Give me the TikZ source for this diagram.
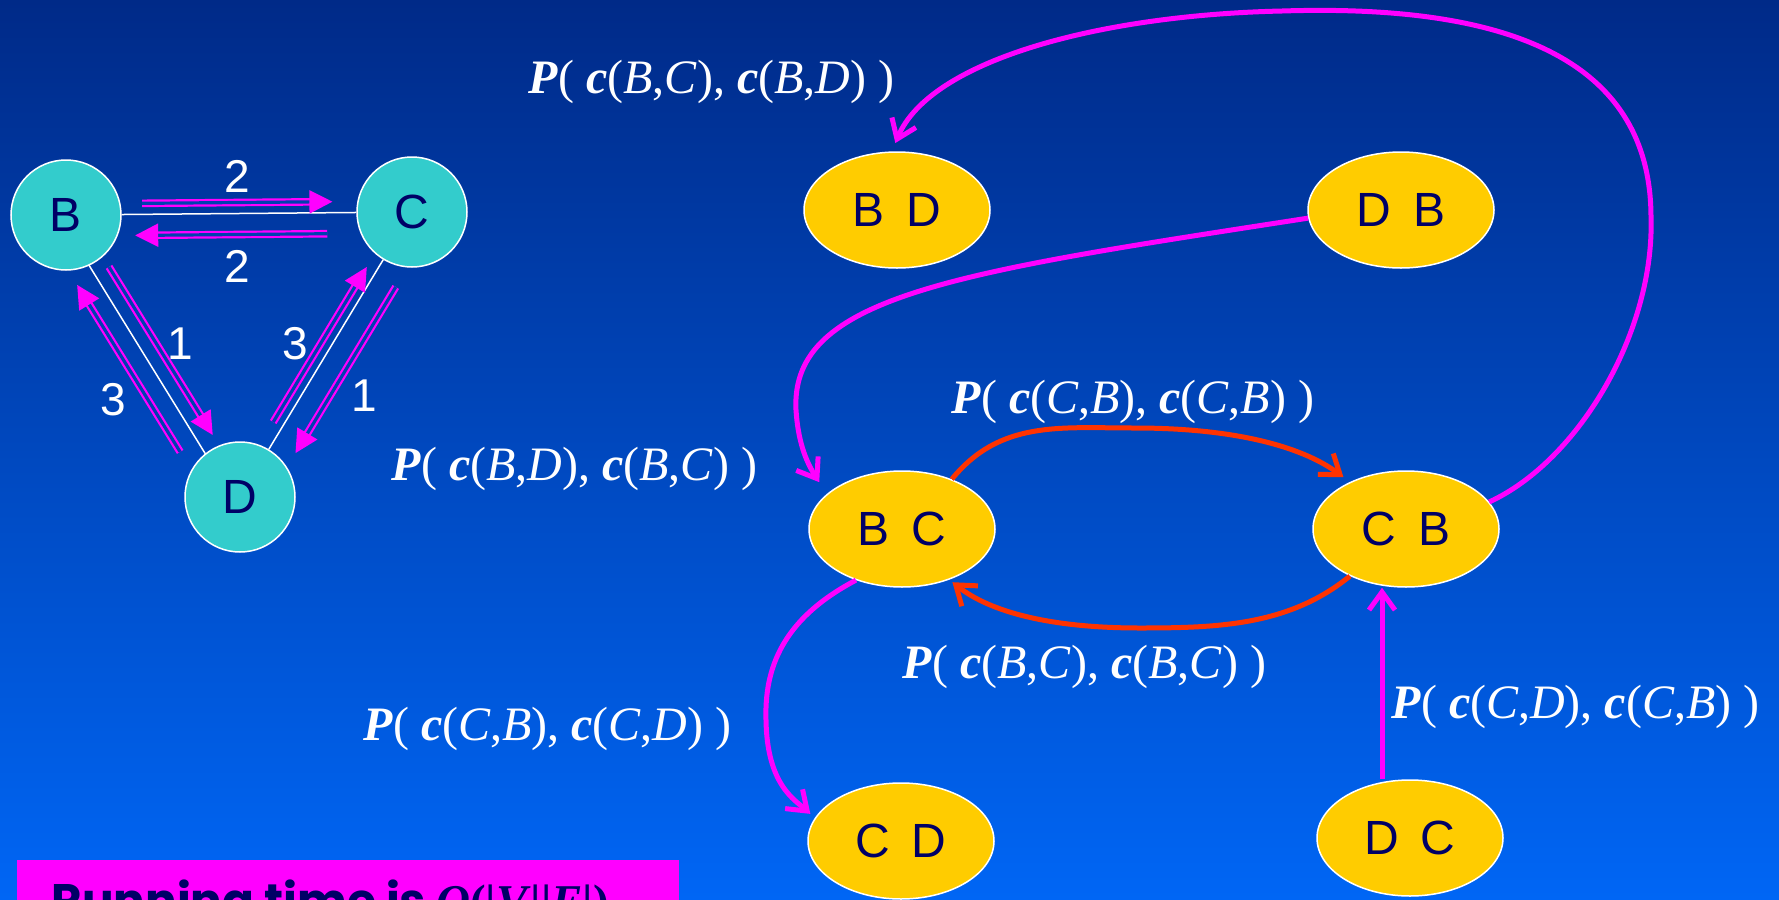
\documentclass[tikz,border=0pt]{standalone}
\usepackage{fontspec}
\setmainfont{Liberation Serif}
\newfontfamily\arialfont{Liberation Sans}
\newfontfamily\roundfont{Poppins}
\usetikzlibrary{arrows.meta,shapes.geometric,calc}
\pgfdeclarelayer{under}
\pgfsetlayers{under,main}
\definecolor{bgtop}{HTML}{002A88}
\definecolor{bgbot}{HTML}{0066F5}
\definecolor{gapblue}{HTML}{0040B0}
\definecolor{vtxfill}{HTML}{33CCCC}
\definecolor{statefill}{HTML}{FFCC00}
\definecolor{ink}{HTML}{000066}
\definecolor{mag}{HTML}{FF00FF}
\definecolor{redarc}{HTML}{FF3300}
\newcommand\plab[4]{\textbf{\textit{P}}( \textbf{\textit{c}}(\textit{#1},\textit{#2}), \textbf{\textit{c}}(\textit{#3},\textit{#4}) )}
\newcommand\pair[2]{#1\hspace{0.45em}#2}
\begin{document}
\begin{tikzpicture}[x=0.5pt,y=-0.5pt,
  vtx/.style={circle,fill=vtxfill,draw=white,line width=0.75pt,minimum size=55pt,inner sep=0,text=ink,font=\arialfont\fontsize{24}{28}\selectfont},
  pairnode/.style={ellipse,fill=statefill,draw=white,line width=0.75pt,minimum width=93pt,minimum height=58pt,inner sep=0,text=ink,font=\arialfont\fontsize{24}{28}\selectfont},
  link/.style={white,line width=0.75pt},
  dbl/.style={draw=mag,line width=1.1pt,double=gapblue,double distance=1.6pt,-{Triangle[length=11.5pt,width=11.5pt]}},
  wt/.style={text=white,font=\arialfont\fontsize{23}{27}\selectfont},
  flow/.style={line width=2.5pt,-{Straight Barb[length=9pt,width=13pt]}},
  lab/.style={text=white,anchor=base west,inner sep=0,font=\fontsize{24}{28}\selectfont}]
\useasboundingbox (0,0) rectangle (1779,900);
\clip (0,0) rectangle (1779,900);
\begin{pgfonlayer}{under}
  \fill[top color=bgtop,bottom color=bgbot] (0,0) rectangle (1779,900);
\end{pgfonlayer}
\node[vtx] (B) at (66,215) {B};
\node[vtx] (C) at (412,212) {C};
\node[vtx] (D) at (240,497) {D};
\begin{pgfonlayer}{under}
  \draw[link] (B) -- (C) (C) -- (D) ($(B)+(-8,0)$) -- ($(D)+(-8,0)$);
\end{pgfonlayer}
\foreach \u/\v/\s/\e/\dx/\dy in {B/C/0.22/0.77/0/-11, C/B/0.245/0.8/0/21, B/D/0.184/0.78/11/0, D/B/0.16/0.752/-32/0, D/C/0.263/0.807/-12/0, C/D/0.263/0.846/29/0}
  \draw[dbl] ($(\u)!\s!(\v)+(\dx,\dy)$) -- ($(\u)!\e!(\v)+(\dx,\dy)$);
\foreach \x/\y/\t [count=\i] in {237/176/2, 237/266/2, 180/344/1, 113/400/3, 295/344/3, 364/396/1}
  \node[wt] (w\i) at (\x,\y) {\t};
\foreach \n/\a/\b/\x/\y in {BD/B/D/897/210, DB/D/B/1401/210, BC/B/C/902/529, CB/C/B/1406/529, CD/C/D/901/841, DC/D/C/1410/838}
  \node[pairnode] (\n) at (\x,\y) {\pair{\a}{\b}};
\draw[flow,mag,shorten >=4.5pt] (CB.18) .. controls (1580,460) and (1655,330) .. (1651,216) .. controls (1650,40) and (1470,5) .. (1282,11) .. controls (1100,15) and (930,60) .. (BD.95);
\draw[flow,mag,shorten >=7pt] (DB.185) .. controls (960,272) and (790,295) .. (796,410) .. controls (798,440) and (805,460) .. (BC.155);
\draw[flow,mag,shorten >=3pt] (BC.228) .. controls (790,615) and (764,660) .. (766,720) .. controls (767,785) and (795,800) .. (CD.165);
\draw[flow,mag] ([xshift=-14pt]DC.north) -- ([xshift=-12pt]CB.south);
\draw[flow,redarc,shorten >=4pt] (BC.45) .. controls (1000,420) and (1060,428) .. (1135,428) .. controls (1230,428) and (1300,445) .. (CB.140);
\draw[flow,redarc,shorten >=2pt] (CB.220) .. controls (1290,625) and (1220,628) .. (1140,628) .. controls (1050,628) and (990,612) .. (BC.313);
\node[lab] (l1) at (528,93) {\plab{B}{C}{B}{D}};
\node[lab] (l2) at (951,413) {\plab{C}{B}{C}{B}};
\node[lab] (l3) at (391,480) {\plab{B}{D}{B}{C}};
\node[lab] (l4) at (902,678) {\plab{B}{C}{B}{C}};
\node[lab] (l5) at (363,740) {\plab{C}{B}{C}{D}};
\node[lab] (l6) at (1391,718) {\plab{C}{D}{C}{B}};
\fill[mag] (17,860) rectangle (679,960);
\node[anchor=base west,inner sep=0,text=ink,font=\roundfont\bfseries\fontsize{23.5}{28}\selectfont] (runtime) at (51,917) {Running time is {\rmfamily\textit{O}(|\textit{V}||\textit{E}|)}};
\end{tikzpicture}
\end{document}
